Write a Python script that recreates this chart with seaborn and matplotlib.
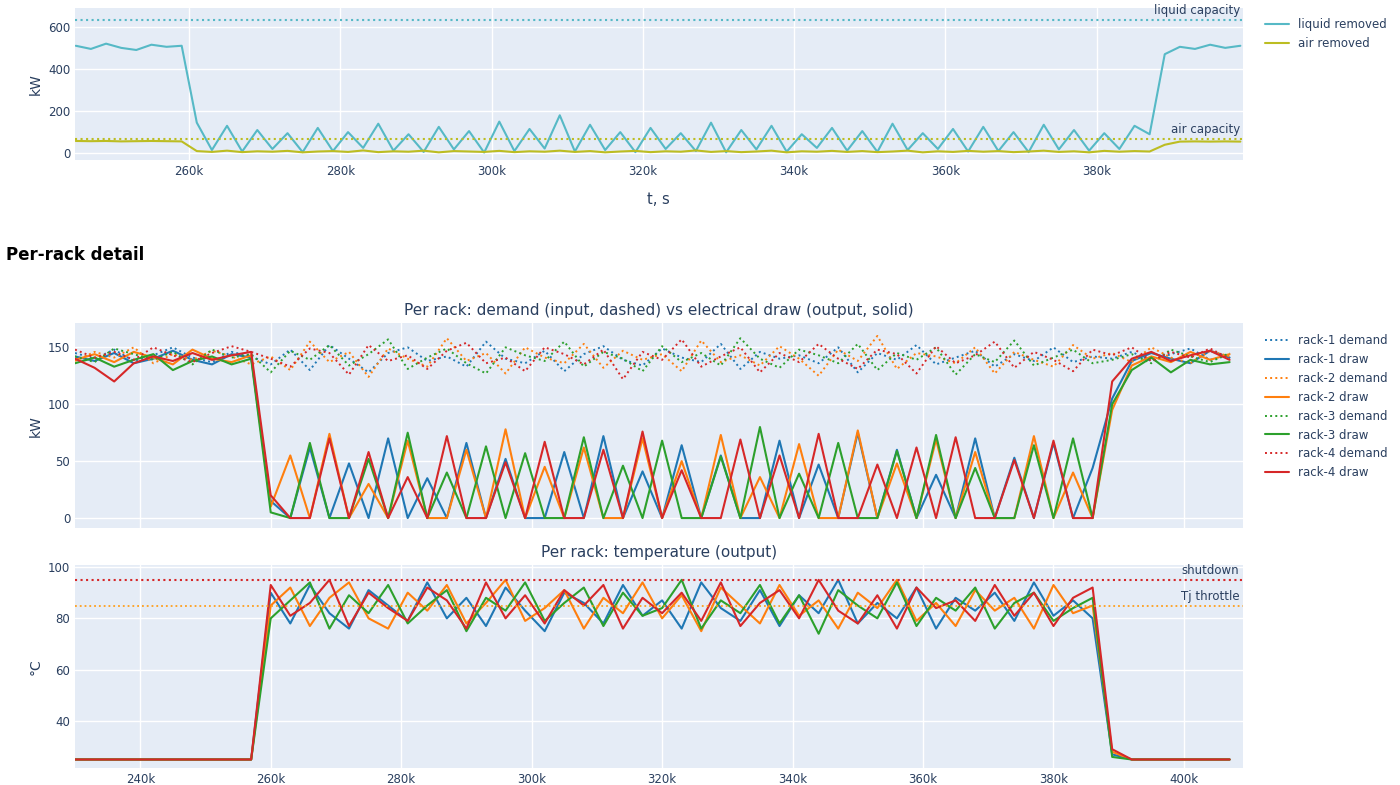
import numpy as np
import pandas as pd
import matplotlib
matplotlib.use("Agg")
import matplotlib.pyplot as plt
from matplotlib.ticker import FuncFormatter
import seaborn as sns

# ---- top panel data (t every 2k s, 245k..399k) ----
t_top = np.arange(245, 400, 2) * 1000
liquid_removed = ([510, 495, 520, 500, 490, 515, 505, 510] +
                  [145, 15, 130, 8, 110, 20, 95, 5, 120, 10, 100, 25, 140, 12, 90, 6, 125, 18, 105, 3,
                   150, 10, 115, 22, 180, 8, 135, 15, 100, 5, 120, 20, 95, 10, 145, 4, 110, 18, 130, 7,
                   90, 25, 120, 12, 105, 6, 140, 15, 95, 20, 115, 8, 125, 10, 100, 5, 135, 18, 110, 12,
                   95, 20, 130, 90] +
                  [470, 505, 495, 515, 500, 510])
air_removed = ([58, 57, 58, 56, 57, 58, 57, 56] +
               [10, 6, 12, 5, 9, 7, 11, 4, 8, 10, 6, 13, 5, 9, 7, 12, 4, 10, 8, 6,
                11, 5, 9, 7, 12, 6, 10, 4, 8, 11, 5, 9, 7, 13, 6, 10, 5, 8, 12, 4,
                9, 7, 11, 6, 10, 5, 8, 12, 4, 9, 6, 11, 7, 10, 5, 8, 12, 6, 9, 4,
                11, 7, 10, 8] +
               [40, 55, 56, 55, 56, 55])
liquid_capacity = 630
air_capacity = 68

# ---- per-rack data (t every 3k s, 230k..407k) ----
t_rack = np.arange(230, 410, 3) * 1000
racks = ["rack-1", "rack-2", "rack-3", "rack-4"]
rack_colors = ["#1f77b4", "#ff7f0e", "#2ca02c", "#d62728"]

demand = {
    "rack-1": [145, 140, 148, 138, 143, 150, 141, 137, 146, 142,
               135, 148, 130, 152, 140, 128, 145, 150, 138, 142, 133, 155, 140, 136, 147, 129, 144, 151, 139, 134,
               149, 141, 137, 153, 131, 146, 140, 143, 136, 150, 128, 145, 139, 152, 135, 141, 147, 133, 144, 138,
               150, 137, 142,
               140, 146, 138, 144, 149, 139, 143],
    "rack-2": [138, 146, 141, 150, 136, 144, 139, 147, 142, 135,
               142, 130, 155, 137, 146, 124, 149, 140, 133, 158, 138, 145, 127, 150, 141, 136, 153, 132, 147, 139,
               144, 129, 156, 137, 143, 134, 151, 140, 125, 148, 138, 160, 131, 145, 142, 136, 150, 127, 146, 139,
               133, 152, 140,
               145, 137, 150, 141, 136, 147, 142],
    "rack-3": [142, 137, 149, 144, 139, 146, 135, 148, 141, 144,
               128, 147, 139, 152, 134, 144, 157, 131, 141, 149, 136, 127, 150, 143, 138, 155, 133, 146, 140, 129,
               151, 137, 145, 134, 158, 140, 132, 148, 143, 136, 153, 130, 145, 139, 150, 126, 144, 137, 156, 134,
               141, 148, 136,
               139, 144, 136, 148, 142, 137, 145],
    "rack-4": [148, 141, 146, 139, 150, 143, 137, 145, 151, 146,
               140, 133, 149, 145, 126, 152, 138, 143, 131, 147, 154, 136, 141, 129, 150, 144, 135, 148, 122, 146,
               139, 157, 133, 142, 150, 128, 145, 137, 153, 140, 131, 148, 144, 127, 151, 136, 143, 155, 132, 146,
               139, 129, 148,
               143, 150, 138, 146, 141, 149, 140],
}
draw = {
    "rack-1": [142, 138, 145, 136, 140, 147, 139, 135, 144, 141,
               15, 0, 62, 0, 48, 0, 70, 0, 35, 0, 66, 0, 52, 0, 0, 58, 0, 72, 0, 41,
               0, 64, 0, 55, 0, 0, 68, 0, 47, 0, 75, 0, 60, 0, 38, 0, 70, 0, 53, 0, 66, 0, 44,
               105, 138, 145, 140, 136, 147, 141],
    "rack-2": [139, 144, 137, 146, 141, 135, 148, 140, 137, 143,
               10, 55, 0, 74, 0, 30, 0, 68, 0, 0, 60, 0, 78, 0, 45, 0, 62, 0, 0, 70,
               0, 50, 0, 73, 0, 36, 0, 65, 0, 0, 77, 0, 48, 0, 69, 0, 58, 0, 0, 72, 0, 40, 0,
               95, 134, 142, 137, 146, 139, 144],
    "rack-3": [136, 141, 133, 139, 144, 130, 138, 142, 135, 140,
               5, 0, 66, 0, 0, 52, 0, 75, 0, 40, 0, 63, 0, 57, 0, 0, 71, 0, 46, 0,
               68, 0, 0, 54, 0, 80, 0, 39, 0, 66, 0, 0, 59, 0, 73, 0, 44, 0, 0, 64, 0, 70, 0,
               100, 130, 141, 128, 139, 135, 137],
    "rack-4": [140, 132, 120, 136, 142, 138, 145, 139, 143, 146,
               20, 0, 0, 70, 0, 58, 0, 36, 0, 72, 0, 0, 49, 0, 67, 0, 0, 60, 0, 76,
               0, 42, 0, 0, 69, 0, 55, 0, 74, 0, 0, 47, 0, 62, 0, 71, 0, 0, 51, 0, 68, 0, 0,
               120, 140, 146, 138, 143, 147, 139],
}
temp = {
    "rack-1": [25] * 10 +
              [90, 78, 93, 82, 76, 91, 85, 79, 94, 80, 88, 77, 92, 83, 75, 90, 86, 78, 93, 81,
               87, 76, 94, 84, 79, 91, 77, 89, 82, 95, 78, 86, 80, 92, 76, 88, 83, 90, 79, 94, 81, 87, 80] +
              [27, 25, 25, 25, 25, 25, 25],
    "rack-2": [25] * 10 +
              [85, 92, 77, 88, 94, 80, 76, 90, 83, 93, 78, 86, 95, 79, 84, 91, 76, 88, 82, 94,
               80, 89, 75, 92, 85, 78, 93, 81, 87, 76, 90, 84, 95, 79, 86, 77, 91, 83, 88, 76, 93, 82, 85] +
              [28, 25, 25, 25, 25, 25, 25],
    "rack-3": [25] * 10 +
              [80, 87, 94, 76, 89, 82, 93, 78, 85, 91, 75, 88, 83, 94, 79, 86, 92, 77, 90, 81,
               84, 95, 76, 87, 82, 93, 78, 89, 74, 91, 85, 80, 94, 77, 88, 83, 92, 76, 86, 90, 79, 84, 88] +
              [26, 25, 25, 25, 25, 25, 25],
    "rack-4": [25] * 10 +
              [93, 81, 86, 95, 77, 90, 84, 79, 92, 87, 76, 94, 80, 89, 78, 91, 85, 93, 76, 88,
               82, 90, 79, 94, 77, 86, 91, 80, 95, 83, 78, 89, 76, 92, 84, 87, 79, 93, 81, 90, 77, 88, 92] +
              [29, 25, 25, 25, 25, 25, 25],
}
shutdown_temp = 95
throttle_temp = 85

sns.set_theme(style="darkgrid", rc={"axes.facecolor": "#E5ECF6", "grid.color": "white",
                                    "text.color": "#2a3f5f", "axes.labelcolor": "#2a3f5f",
                                    "xtick.color": "#2a3f5f", "ytick.color": "#2a3f5f"})
plt.rcParams["font.family"] = ["DejaVu Sans"]

fig = plt.figure(figsize=(14, 7.85), dpi=100)
kfmt = FuncFormatter(lambda v, p: f"{int(v/1000)}k")


def style_ax(ax):
    for s in ax.spines.values():
        s.set_visible(False)
    ax.tick_params(labelsize=8.5, length=0)
    ax.xaxis.set_major_formatter(kfmt)


# top panel
ax1 = fig.add_axes([0.0536, 0.796, 0.834, 0.194])
sns.lineplot(x=t_top, y=liquid_removed, ax=ax1, color="#56b9c6", lw=1.5, label="liquid removed")
sns.lineplot(x=t_top, y=air_removed, ax=ax1, color="#bcbd22", lw=1.5, label="air removed")
ax1.axhline(liquid_capacity, color="#56b9c6", ls=":", lw=1.5)
ax1.axhline(air_capacity, color="#bcbd22", ls=":", lw=1.5)
ax1.set_xlim(244900, 399300)
ax1.set_ylim(-33, 690)
ax1.set_yticks([0, 200, 400, 600])
ax1.set_xticks(np.arange(260, 400, 20) * 1000)
ax1.text(399000, liquid_capacity + 15, "liquid capacity", ha="right", va="bottom", fontsize=8.5)
ax1.text(399000, air_capacity + 15, "air capacity", ha="right", va="bottom", fontsize=8.5)
ax1.set_ylabel("kW", fontsize=10)
ax1.set_xlabel("t, s", fontsize=10.5, labelpad=10)
style_ax(ax1)
ax1.legend(loc="upper left", bbox_to_anchor=(1.01, 1.0), frameon=False, fontsize=8.5)

fig.text(0.004, 0.675, "Per-rack detail", fontsize=12, fontweight="bold", color="black", va="center")

# per-rack power
ax2 = fig.add_axes([0.0536, 0.327, 0.834, 0.261])
for r, c in zip(racks, rack_colors):
    sns.lineplot(x=t_rack, y=demand[r], ax=ax2, color=c, ls=":", lw=1.4, label=f"{r} demand")
    sns.lineplot(x=t_rack, y=draw[r], ax=ax2, color=c, lw=1.5, label=f"{r} draw")
ax2.set_xlim(230000, 409000)
ax2.set_ylim(-9, 171)
ax2.set_yticks([0, 50, 100, 150])
ax2.set_xticks(np.arange(240, 410, 20) * 1000)
ax2.set_ylabel("kW", fontsize=10)
ax2.set_title("Per rack: demand (input, dashed) vs electrical draw (output, solid)", fontsize=11)
style_ax(ax2)
ax2.xaxis.set_major_formatter(FuncFormatter(lambda v, p: ""))
ax2.legend(loc="upper left", bbox_to_anchor=(1.01, 1.0), frameon=False, fontsize=8.5)

# per-rack temperature
ax3 = fig.add_axes([0.0536, 0.0217, 0.834, 0.2586])
for r, c in zip(racks, rack_colors):
    sns.lineplot(x=t_rack, y=temp[r], ax=ax3, color=c, lw=1.5, legend=False)
ax3.axhline(shutdown_temp, color="#d62728", ls=":", lw=1.5)
ax3.axhline(throttle_temp, color="#ff9f1c", ls=":", lw=1.3)
ax3.text(408500, shutdown_temp + 1, "shutdown", ha="right", va="bottom", fontsize=8.5)
ax3.text(408500, throttle_temp + 1, "Tj throttle", ha="right", va="bottom", fontsize=8.5)
ax3.set_xlim(230000, 409000)
ax3.set_ylim(21.7, 100.8)
ax3.set_yticks([40, 60, 80, 100])
ax3.set_xticks(np.arange(240, 410, 20) * 1000)
ax3.set_ylabel("°C", fontsize=10)
ax3.set_title("Per rack: temperature (output)", fontsize=11)
style_ax(ax3)

fig.savefig("out.png", dpi=100)
